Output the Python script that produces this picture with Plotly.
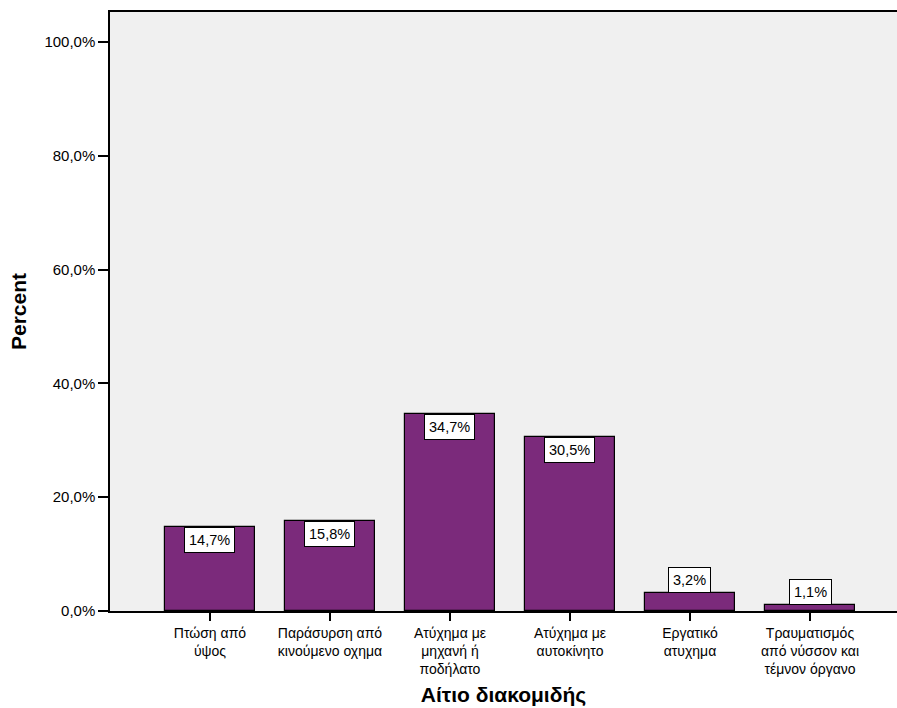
import plotly.graph_objects as go

categories = [
    "Πτώση από<br>ύψος",
    "Παράσυρση από<br>κινούμενο οχημα",
    "Ατύχημα με<br>μηχανή ή<br>ποδήλατο",
    "Ατύχημα με<br>αυτοκίνητο",
    "Εργατικό<br>ατυχημα",
    "Τραυματισμός<br>από νύσσον και<br>τέμνον όργανο",
]
percent = [14.7, 15.8, 34.7, 30.5, 3.2, 1.1]
ytick_vals = [0, 20, 40, 60, 80, 100]
ytick_text = ["0,0%", "20,0%", "40,0%", "60,0%", "80,0%", "100,0%"]

FONT = "Liberation Sans, Arial, sans-serif"
BAR = "#7B2A7B"

xs = list(range(len(categories)))
fig = go.Figure(go.Bar(
    x=xs, y=percent, width=0.75,
    marker=dict(color=BAR, line=dict(color="#000000", width=1.2)),
    hoverinfo="skip",
))

for i, v in zip(xs, percent):
    fig.add_annotation(
        x=i, y=v, xref="x", yref="y",
        text=f"{v:.1f}%".replace(".", ","),
        showarrow=False,
        yanchor="top" if v > 8 else "bottom",
        bgcolor="#FFFFFF", bordercolor="#000000", borderwidth=1, borderpad=4,
        font=dict(family=FONT, size=14.5, color="#000000"),
    )

fig.update_layout(
    width=897, height=708,
    margin=dict(l=110, r=0, t=12, b=97),
    paper_bgcolor="#FFFFFF", plot_bgcolor="#F0F0F0",
    showlegend=False,
    font=dict(family=FONT, size=14, color="#000000"),
    bargap=0,
)
fig.update_xaxes(
    range=[-0.833, 5.725],
    tickvals=xs, ticktext=categories,
    ticks="outside", ticklen=8, tickcolor="#000000", tickwidth=1.5,
    showline=True, linecolor="#000000", linewidth=1.5, mirror=True,
    showgrid=False, zeroline=False,
    tickfont=dict(family=FONT, size=14),
    title=dict(text="<b>Αίτιο διακομιδής</b>", font=dict(family=FONT, size=21), standoff=11),
)
fig.update_yaxes(
    range=[0, 105.27],
    tickvals=ytick_vals, ticktext=ytick_text,
    ticks="outside", ticklen=10, tickcolor="#000000", tickwidth=1.5,
    showline=True, linecolor="#000000", linewidth=1.5,
    showgrid=False, zeroline=False,
    tickfont=dict(family=FONT, size=15),
    title=dict(text="<b>Percent</b>", font=dict(family=FONT, size=21), standoff=12),
)

fig.write_html("out.html")
